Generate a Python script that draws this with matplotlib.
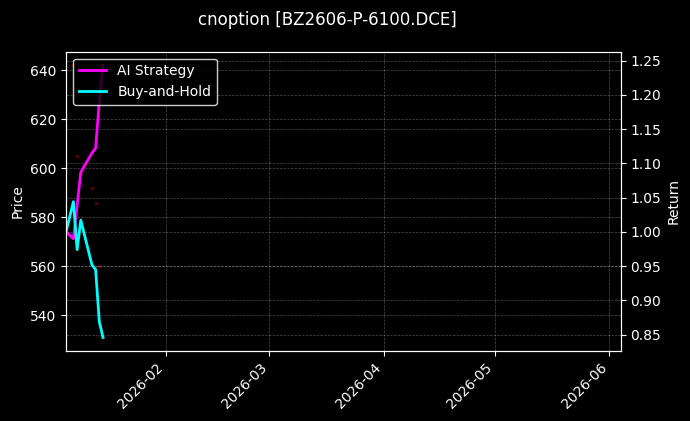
import numpy as np
import pandas as pd
import matplotlib
matplotlib.use("Agg")
import matplotlib.pyplot as plt
import matplotlib.dates as mdates

plt.style.use('dark_background')

dates = pd.to_datetime(["2026-01-05", "2026-01-07", "2026-01-08", "2026-01-09",
                        "2026-01-12", "2026-01-13", "2026-01-14", "2026-01-15"])
price = [576, 642, 605, 598, 592, 586, 560, 531]
ai_ret = [1.0, 0.990, 1.039, 1.087, 1.115, 1.122, 1.19, 1.243]
bh_ret = [1.0, 1.044, 0.974, 1.017, 0.952, 0.945, 0.869, 0.846]

fig = plt.figure(figsize=(6.9, 4.21), dpi=100)
ax = fig.add_axes([0.0957, 0.1663, 0.8036, 0.7109])
ax2 = ax.twinx()

ax.scatter(dates, price, s=3, color='red', alpha=0.25, zorder=1)
ax.set_ylabel("Price")
ax.grid(True, linestyle='--', linewidth=0.5, alpha=0.3)

ax2.plot(dates, ai_ret, color='magenta', linewidth=2, label="AI Strategy")
ax2.plot(dates, bh_ret, color='cyan', linewidth=2, label="Buy-and-Hold")
ax2.set_ylabel("Return")
ax2.grid(True, linestyle='--', linewidth=0.5, alpha=0.3)

ax.set_xlim(pd.Timestamp("2026-01-05"), pd.Timestamp("2026-06-04"))
ax.xaxis.set_major_locator(mdates.MonthLocator())
ax.xaxis.set_major_formatter(mdates.DateFormatter('%Y-%m'))
plt.setp(ax.get_xticklabels(), rotation=45, ha='right')

leg = ax2.legend(loc='upper left', facecolor='black', edgecolor='white')
fig.suptitle("cnoption [BZ2606-P-6100.DCE]", x=0.475, y=0.975, fontsize=12)

fig.savefig("out.png", dpi=100)
